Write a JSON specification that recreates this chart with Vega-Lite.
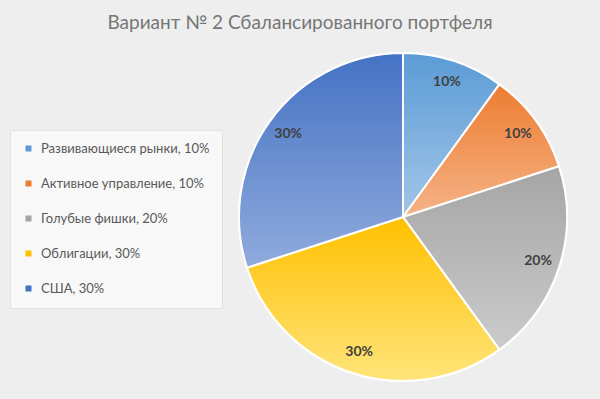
{
  "$schema": "https://vega.github.io/schema/vega-lite/v6.json",
  "width": 330,
  "height": 330,
  "autosize": {"type": "none"},
  "padding": {"left": 238, "top": 52, "right": 32, "bottom": 17},
  "background": "#eeeeee",
  "title": {
    "text": "Вариант № 2 Сбалансированного портфеля",
    "font": "Lato",
    "fontSize": 19,
    "fontWeight": "normal",
    "color": "#767676",
    "anchor": "middle",
    "dx": -103,
    "offset": 16
  },
  "data": {
    "values": [
      {"cat": "Развивающиеся рынки, 10%", "share": 0.1, "idx": 1},
      {"cat": "Активное управление, 10%", "share": 0.1, "idx": 2},
      {"cat": "Голубые фишки, 20%", "share": 0.2, "idx": 3},
      {"cat": "Облигации, 30%", "share": 0.3, "idx": 4},
      {"cat": "США, 30%", "share": 0.3, "idx": 5}
    ]
  },
  "encoding": {
    "theta": {"field": "share", "type": "quantitative", "stack": true, "scale": {"domain": [0, 1]}},
    "order": {"field": "idx", "type": "quantitative"}
  },
  "layer": [
    {
      "mark": {"type": "arc", "outerRadius": 164, "stroke": "#ffffff", "strokeWidth": 2},
      "encoding": {
        "color": {
          "field": "cat",
          "type": "nominal",
          "scale": {
            "domain": ["Развивающиеся рынки, 10%", "Активное управление, 10%", "Голубые фишки, 20%", "Облигации, 30%", "США, 30%"],
            "range": ["#5b9bd5", "#ed7d31", "#a5a5a5", "#ffc000", "#4472c4"]
          },
          "legend": {
            "orient": "none",
            "legendX": -228,
            "legendY": 78,
            "title": null,
            "symbolType": "square",
            "symbolSize": 36,
            "symbolStrokeWidth": 0,
            "labelFont": "Lato",
            "labelFontSize": 13,
            "labelColor": "#595959",
            "labelOffset": 6,
            "labelLimit": 300,
            "rowPadding": 21,
            "padding": 12,
            "fillColor": "#f8f8f8",
            "strokeColor": "#e2e2e2"
          }
        }
      }
    },
    {
      "mark": {"type": "arc", "outerRadius": 164, "stroke": "#ffffff", "strokeWidth": 2},
      "encoding": {
        "color": {
          "condition": [
            {"test": "datum.idx == 1", "value": {"gradient": "linear", "x1": 0, "y1": 0, "x2": 0, "y2": 1, "stops": [{"offset": 0, "color": "#5b9bd5"}, {"offset": 1, "color": "#a2c6e8"}]}},
            {"test": "datum.idx == 2", "value": {"gradient": "linear", "x1": 0, "y1": 0, "x2": 0, "y2": 1, "stops": [{"offset": 0, "color": "#ed7d31"}, {"offset": 1, "color": "#f5b387"}]}},
            {"test": "datum.idx == 3", "value": {"gradient": "linear", "x1": 0, "y1": 0, "x2": 0, "y2": 1, "stops": [{"offset": 0, "color": "#a5a5a5"}, {"offset": 1, "color": "#cbcbcb"}]}},
            {"test": "datum.idx == 4", "value": {"gradient": "linear", "x1": 0, "y1": 0, "x2": 0, "y2": 1, "stops": [{"offset": 0, "color": "#ffc000"}, {"offset": 1, "color": "#ffe47a"}]}}
          ],
          "value": {"gradient": "linear", "x1": 0, "y1": 0, "x2": 0, "y2": 1, "stops": [{"offset": 0, "color": "#4472c4"}, {"offset": 1, "color": "#90abdd"}]}
        }
      }
    },
    {
      "mark": {"type": "text", "radius": 142, "font": "Lato", "fontSize": 14, "fontWeight": "bold", "color": "#404040"},
      "encoding": {
        "text": {"field": "share", "type": "quantitative", "format": ".0%"}
      }
    }
  ],
  "config": {"view": {"stroke": null}}
}
